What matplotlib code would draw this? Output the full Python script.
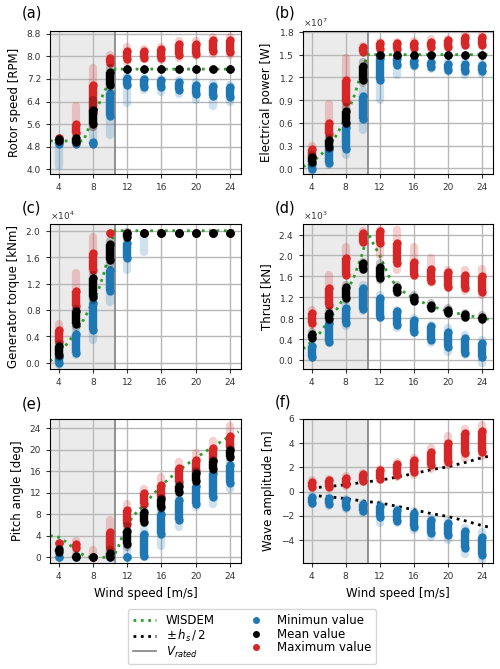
import numpy as np
import matplotlib
matplotlib.use("Agg")
import matplotlib.pyplot as plt
from matplotlib.lines import Line2D

# wind speeds of the simulations
ws = [4, 6, 8, 10, 12, 14, 16, 18, 20, 22, 24]
v_rated = 10.6

# each cloud: (lowest, core low, core high, highest) per wind speed
# (a) rotor speed [RPM]
rpm_min = [(4.1, 4.88, 4.97, 4.97), (4.88, 4.9, 4.97, 4.97), (4.88, 4.9, 4.97, 5.75),
           (5.2, 5.9, 6.7, 6.95), (6.35, 7.0, 7.25, 7.3), (6.8, 6.9, 7.2, 7.25),
           (6.75, 6.9, 7.15, 7.2), (6.65, 6.8, 7.1, 7.15), (6.45, 6.65, 7.0, 7.1),
           (6.25, 6.6, 6.95, 7.05), (6.4, 6.55, 6.9, 7.0)]
rpm_mean = [(5.0, 5.0, 5.08, 5.08), (4.96, 4.98, 5.1, 5.12), (5.5, 5.6, 6.1, 6.45),
            (6.9, 7.0, 7.45, 7.6), (7.55, 7.55, 7.55, 7.55), (7.55, 7.55, 7.55, 7.55),
            (7.55, 7.55, 7.55, 7.55), (7.55, 7.55, 7.55, 7.55), (7.55, 7.55, 7.55, 7.55),
            (7.55, 7.55, 7.55, 7.55), (7.55, 7.55, 7.55, 7.55)]
rpm_max = [(5.1, 5.1, 5.1, 5.1), (5.15, 5.3, 5.6, 6.25), (5.5, 6.0, 7.0, 7.6),
           (7.75, 7.78, 7.95, 8.05), (7.8, 7.9, 8.2, 8.35), (7.9, 7.95, 8.2, 8.25),
           (7.88, 7.95, 8.25, 8.35), (7.95, 8.05, 8.45, 8.55), (8.0, 8.1, 8.45, 8.55),
           (8.1, 8.2, 8.6, 8.7), (8.05, 8.15, 8.6, 8.7)]
rpm_w_ws = [3, 6.9, 8, 9, 10, 10.6, 25]
rpm_w = [5.0, 5.0, 5.82, 6.52, 7.17, 7.55, 7.55]

# (b) electrical power [x1e7 W]
pow_min = [(-0.03, -0.01, 0.06, 0.11), (0.04, 0.07, 0.25, 0.28), (0.17, 0.25, 0.55, 0.61),
           (0.5, 0.65, 0.95, 1.03), (0.9, 1.16, 1.45, 1.49), (1.23, 1.36, 1.45, 1.47),
           (1.34, 1.36, 1.43, 1.45), (1.31, 1.34, 1.4, 1.42), (1.27, 1.3, 1.38, 1.4),
           (1.23, 1.28, 1.38, 1.4), (1.25, 1.28, 1.36, 1.38)]
pow_mean = [(0.06, 0.08, 0.15, 0.17), (0.26, 0.28, 0.37, 0.4), (0.59, 0.6, 0.76, 0.81),
            (1.12, 1.16, 1.35, 1.4), (1.5, 1.5, 1.5, 1.5), (1.5, 1.5, 1.5, 1.5),
            (1.5, 1.5, 1.5, 1.5), (1.5, 1.5, 1.5, 1.5), (1.5, 1.5, 1.5, 1.5),
            (1.5, 1.5, 1.5, 1.5), (1.5, 1.5, 1.5, 1.5)]
pow_max = [(0.12, 0.15, 0.26, 0.3), (0.43, 0.45, 0.6, 0.85), (0.81, 0.88, 1.16, 1.45),
           (1.53, 1.54, 1.6, 1.62), (1.57, 1.58, 1.65, 1.67), (1.57, 1.58, 1.65, 1.67),
           (1.58, 1.59, 1.66, 1.68), (1.58, 1.6, 1.67, 1.7), (1.59, 1.6, 1.69, 1.71),
           (1.62, 1.63, 1.73, 1.76), (1.62, 1.63, 1.73, 1.76)]
pow_w_ws = [3, 4, 5, 6, 7, 8, 9, 10, 10.6, 25]
pow_w = [0.02, 0.08, 0.165, 0.285, 0.45, 0.67, 0.955, 1.31, 1.5, 1.5]

# (c) generator torque [x1e4 kNm]
trq_min = [(-0.04, -0.01, 0.08, 0.11), (0.11, 0.14, 0.44, 0.54), (0.34, 0.49, 0.9, 1.0),
           (0.92, 1.08, 1.41, 1.46), (1.41, 1.58, 1.81, 1.86), (1.68, 1.96, 1.96, 1.96),
           (1.96, 1.96, 1.96, 1.96), (1.96, 1.96, 1.96, 1.96), (1.96, 1.96, 1.96, 1.96),
           (1.96, 1.96, 1.96, 1.96), (1.96, 1.96, 1.96, 1.96)]
trq_mean = [(0.09, 0.12, 0.26, 0.29), (0.54, 0.58, 0.78, 0.82), (0.95, 1.0, 1.28, 1.33),
            (1.5, 1.55, 1.8, 1.84), (1.89, 1.9, 1.96, 1.98), (1.96, 1.96, 1.96, 1.96),
            (1.96, 1.96, 1.96, 1.96), (1.96, 1.96, 1.96, 1.96), (1.96, 1.96, 1.96, 1.96),
            (1.96, 1.96, 1.96, 1.96), (1.96, 1.96, 1.96, 1.96)]
trq_max = [(0.29, 0.31, 0.49, 0.59), (0.82, 0.86, 1.08, 1.36), (1.38, 1.41, 1.66, 1.91),
           (1.97, 1.97, 1.97, 1.97), (1.97, 1.97, 1.97, 1.97), (1.97, 1.97, 1.97, 1.97),
           (1.97, 1.97, 1.97, 1.97), (1.97, 1.97, 1.97, 1.97), (1.97, 1.97, 1.97, 1.97),
           (1.97, 1.97, 1.97, 1.97), (1.97, 1.97, 1.97, 1.97)]
trq_w_ws = [3, 4, 4.7, 5.3, 6.1, 7.0, 7.6, 8.6, 9.3, 10.0, 10.55, 25]
trq_w = [0.02, 0.14, 0.24, 0.34, 0.48, 0.67, 0.82, 1.08, 1.36, 1.71, 2.0, 2.0]

# (d) thrust [x1e3 kN]
thr_min = [(0.03, 0.06, 0.26, 0.29), (0.32, 0.35, 0.7, 0.8), (0.64, 0.7, 0.99, 1.05),
           (0.93, 0.98, 1.37, 1.44), (0.8, 0.83, 1.18, 1.24), (0.61, 0.67, 0.93, 0.96),
           (0.51, 0.54, 0.77, 0.8), (0.32, 0.38, 0.64, 0.67), (0.16, 0.25, 0.54, 0.61),
           (0.1, 0.13, 0.42, 0.48), (-0.06, 0.06, 0.32, 0.38)]
thr_mean = [(0.41, 0.42, 0.5, 0.54), (0.77, 0.79, 0.9, 0.93), (1.15, 1.18, 1.4, 1.44),
            (1.72, 1.74, 1.86, 1.88), (1.53, 1.57, 1.78, 1.85), (1.28, 1.3, 1.4, 1.44),
            (1.12, 1.13, 1.2, 1.24), (0.99, 1.0, 1.06, 1.08), (0.89, 0.9, 0.96, 0.99),
            (0.8, 0.82, 0.87, 0.89), (0.77, 0.78, 0.83, 0.86)]
thr_max = [(0.67, 0.7, 0.89, 0.96), (1.02, 1.05, 1.37, 1.63), (1.63, 1.63, 1.95, 2.17),
           (2.23, 2.26, 2.43, 2.46), (2.0, 2.23, 2.46, 2.49), (1.72, 1.85, 2.23, 2.49),
           (1.6, 1.63, 1.88, 2.17), (1.47, 1.51, 1.75, 1.95), (1.37, 1.4, 1.68, 1.72),
           (1.31, 1.37, 1.62, 1.72), (1.24, 1.3, 1.6, 1.75)]
thr_w_ws = [3, 4, 5, 6, 7, 8, 9, 10, 10.6, 11, 12, 13, 14, 15, 16, 18, 20, 22, 24, 25]
thr_w = [0.21, 0.35, 0.52, 0.75, 0.98, 1.25, 1.6, 2.05, 2.45, 2.3, 2.0, 1.62, 1.4,
         1.28, 1.18, 1.03, 0.93, 0.86, 0.8, 0.77]

# (e) pitch angle [deg]
pit_min = [(0, 0, 0, 0), (0, 0, 0, 0), (0, 0, 0, 0), (0, 0, 0, 0), (0, 0, 0, 2.0),
           (0, 0.3, 4.3, 5.2), (2.2, 4.4, 8.1, 8.8), (5.6, 6.9, 10.7, 11.3),
           (9.4, 10.0, 13.2, 13.8), (10.0, 11.3, 15.7, 16.0), (12.8, 13.8, 17.2, 18.2)]
pit_mean = [(0.9, 1.0, 1.5, 1.6), (0, 0, 0.3, 0.4), (0, 0, 0, 0), (0, 0, 0.9, 1.4),
            (2.0, 2.5, 5.0, 5.8), (6.4, 6.6, 8.5, 8.8), (9.1, 9.3, 10.8, 11.0),
            (11.9, 12.1, 13.3, 13.5), (14.1, 14.3, 15.8, 16.0), (16.3, 16.5, 18.0, 18.2),
            (18.5, 18.7, 19.9, 20.1)]
pit_max = [(2.6, 2.6, 2.6, 2.6), (1.6, 1.7, 2.5, 3.1), (0, 0, 0, 1.3), (0.9, 1.6, 4.7, 6.9),
           (5.9, 6.3, 8.8, 10.0), (9.7, 10.0, 11.9, 12.8), (11.0, 11.3, 13.5, 14.9),
           (13.5, 14.1, 16.6, 17.8), (15.7, 16.0, 18.2, 19.5), (17.9, 18.2, 20.4, 21.7),
           (20.0, 20.4, 22.6, 24.5)]
pit_w_ws = [3, 4, 5, 6, 7, 7.6, 10.3, 10.6, 11, 11.5, 12, 13, 14, 16, 18, 20, 22, 24, 25]
pit_w = [4.05, 3.75, 2.75, 1.35, 0.35, 0, 0, 0.7, 2.1, 4.2, 6.2, 8.2, 9.9, 13.4, 16.2,
         18.5, 20.6, 22.6, 23.4]

# (f) wave amplitude [m]
wav_min = [(-1.04, -0.95, -0.4, -0.34), (-1.18, -1.05, -0.5, -0.42), (-1.46, -1.3, -0.7, -0.62),
           (-1.74, -1.6, -1.0, -0.9), (-2.58, -2.1, -1.15, -1.04), (-2.58, -2.4, -1.55, -1.46),
           (-3.14, -2.9, -1.75, -1.6), (-3.7, -3.4, -2.3, -2.16), (-3.98, -3.6, -2.55, -2.44),
           (-5.1, -4.6, -3.2, -3.0), (-5.66, -5.2, -3.7, -3.3)]
wav_max = [(0.31, 0.36, 0.78, 0.93), (0.31, 0.4, 0.95, 1.07), (0.5, 0.6, 1.15, 1.26),
           (0.78, 0.88, 1.45, 1.54), (0.93, 1.05, 1.75, 1.9), (1.2, 1.35, 2.3, 2.47),
           (1.35, 1.6, 2.6, 2.75), (1.9, 2.2, 3.3, 3.59), (2.19, 2.47, 4.0, 4.57),
           (2.75, 3.17, 4.85, 5.2), (2.9, 3.3, 5.0, 5.5)]
hs_ws = [4, 6, 8, 10, 12, 14, 16, 18, 20, 22, 24, 25]
hs_half = [0.31, 0.42, 0.57, 0.77, 0.93, 1.2, 1.49, 1.8, 2.05, 2.4, 2.8, 2.95]

C_MIN = "tab:blue"
C_MEAN = "black"
C_MAX = "tab:red"
C_WIS = "tab:green"
TICK_FS = 6.5
LAB_FS = 8.5


def draw_cloud(ax, cloud, color, scale, z):
    arr = np.array(cloud, dtype=float) * scale
    lo, clo, chi, hi = arr.T
    ax.vlines(ws, lo, hi, colors=color, lw=6, alpha=0.22, capstyle="round", zorder=z)
    ax.vlines(ws, clo, chi, colors=color, lw=6, capstyle="butt", zorder=z + 0.1)
    ax.scatter(ws, clo, s=36, color=color, linewidths=0, zorder=z + 0.1)
    ax.scatter(ws, chi, s=36, color=color, linewidths=0, zorder=z + 0.1)


def style_axes(ax, ylabel, yticks, ylim, sci=False):
    ax.axvspan(3, v_rated, color="#ebebeb", zorder=0, lw=0)
    ax.axvline(v_rated, color="gray", lw=1.2, zorder=1)
    ax.set_axisbelow(True)
    ax.grid(True, color="#b8b8b8", lw=1.0)
    ax.set_xlim(3, 25.28)
    ax.set_xticks([4, 8, 12, 16, 20, 24])
    ax.set_yticks(yticks)
    ax.set_ylim(ylim)
    ax.set_ylabel(ylabel, fontsize=LAB_FS)
    ax.tick_params(labelsize=TICK_FS, colors="#333333", length=3)
    if sci:
        ax.ticklabel_format(axis="y", style="sci", scilimits=(0, 0), useMathText=True)
        ax.yaxis.get_offset_text().set_fontsize(TICK_FS)
        ax.yaxis.get_offset_text().set_color("#333333")


fig = plt.figure(figsize=(5.0, 6.69), dpi=100)

axa = fig.add_axes([0.100, 0.740, 0.382, 0.214])
axb = fig.add_axes([0.606, 0.740, 0.380, 0.214])
axc = fig.add_axes([0.100, 0.448, 0.382, 0.217])
axd = fig.add_axes([0.606, 0.448, 0.380, 0.217])
axe = fig.add_axes([0.100, 0.158, 0.382, 0.216])
axf = fig.add_axes([0.606, 0.158, 0.380, 0.216])

# (a)
axa.plot(rpm_w_ws, rpm_w, ":", color=C_WIS, lw=2, zorder=2.5)
draw_cloud(axa, rpm_min, C_MIN, 1, 3)
draw_cloud(axa, rpm_max, C_MAX, 1, 4)
draw_cloud(axa, rpm_mean, C_MEAN, 1, 5)
style_axes(axa, "Rotor speed [RPM]", np.arange(4.0, 8.81, 0.8), (3.83, 8.91))

# (b)
axb.plot(pow_w_ws, np.array(pow_w) * 1e7, ":", color=C_WIS, lw=2, zorder=2.5)
draw_cloud(axb, pow_min, C_MIN, 1e7, 3)
draw_cloud(axb, pow_max, C_MAX, 1e7, 4)
draw_cloud(axb, pow_mean, C_MEAN, 1e7, 5)
style_axes(axb, "Electrical power [W]", np.arange(0, 1.81e7, 0.3e7), (-0.075e7, 1.815e7), sci=True)

# (c)
axc.plot(trq_w_ws, np.array(trq_w) * 1e4, ":", color=C_WIS, lw=2, zorder=2.5)
draw_cloud(axc, trq_min, C_MIN, 1e4, 3)
draw_cloud(axc, trq_max, C_MAX, 1e4, 4)
draw_cloud(axc, trq_mean, C_MEAN, 1e4, 5)
style_axes(axc, "Generator torque [kNm]", np.arange(0, 2.01e4, 0.4e4), (-0.1e4, 2.1e4), sci=True)

# (d)
axd.plot(thr_w_ws, np.array(thr_w) * 1e3, ":", color=C_WIS, lw=2, zorder=2.5)
draw_cloud(axd, thr_min, C_MIN, 1e3, 3)
draw_cloud(axd, thr_max, C_MAX, 1e3, 4)
draw_cloud(axd, thr_mean, C_MEAN, 1e3, 5)
style_axes(axd, "Thrust [kN]", np.arange(0, 2.41e3, 0.4e3), (-0.18e3, 2.6e3), sci=True)

# (e)
axe.plot(pit_w_ws, pit_w, ":", color=C_WIS, lw=2, zorder=2.5)
draw_cloud(axe, pit_min, C_MIN, 1, 3)
draw_cloud(axe, pit_max, C_MAX, 1, 4)
draw_cloud(axe, pit_mean, C_MEAN, 1, 5)
style_axes(axe, "Pitch angle [deg]", np.arange(0, 25, 4), (-1.1, 25.8))
axe.set_xlabel("Wind speed [m/s]", fontsize=LAB_FS)

# (f)
axf.plot(hs_ws, hs_half, ":", color="black", lw=2, zorder=2.5)
axf.plot(hs_ws, -np.array(hs_half), ":", color="black", lw=2, zorder=2.5)
draw_cloud(axf, wav_min, C_MIN, 1, 3)
draw_cloud(axf, wav_max, C_MAX, 1, 4)
style_axes(axf, "Wave amplitude [m]", np.arange(-4, 7, 2), (-5.9, 6.0))
axf.set_xlabel("Wind speed [m/s]", fontsize=LAB_FS)

# panel letters
for lab, x, y in [("(a)", 22, 12.5), ("(b)", 275, 12.5), ("(c)", 22, 207.5),
                  ("(d)", 275, 207.5), ("(e)", 22, 404), ("(f)", 275, 402)]:
    fig.text(x / 500, 1 - y / 669, lab, fontsize=10.5, ha="left", va="center")

handles = [
    Line2D([], [], ls=":", color=C_WIS, lw=2),
    Line2D([], [], ls=":", color="black", lw=2),
    Line2D([], [], ls="-", color="gray", lw=1.2),
    Line2D([], [], ls="none", marker="o", ms=4, color=C_MIN),
    Line2D([], [], ls="none", marker="o", ms=4, color=C_MEAN),
    Line2D([], [], ls="none", marker="o", ms=4, color=C_MAX),
]
labels = ["WISDEM", r"$\pm\,h_s\,/\,2$", r"$V_{rated}$",
          "Minimun value", "Mean value", "Maximum value"]
fig.legend(handles, labels, loc="center", bbox_to_anchor=(0.504, 0.048), ncol=2,
           fontsize=LAB_FS, labelspacing=0.05, columnspacing=2.5, handlelength=2.0)

fig.savefig("out.png", dpi=100)
